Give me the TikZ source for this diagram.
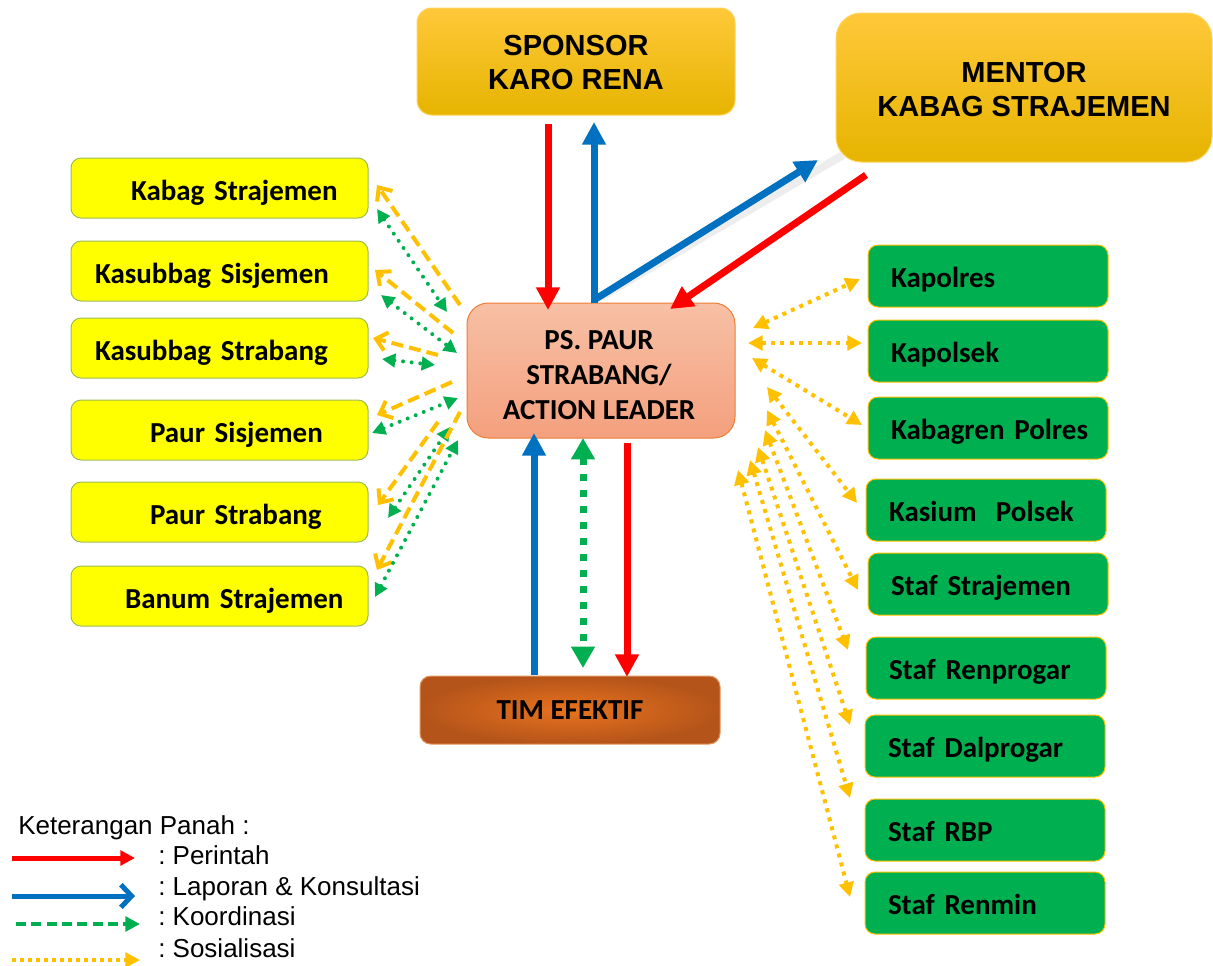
\documentclass[tikz,border=0pt]{standalone}
\usepackage{fontspec}
\setmainfont{Liberation Sans}
\newfontfamily\calib{Carlito}
\usetikzlibrary{arrows.meta,calc}
\definecolor{cred}{HTML}{FF0000}
\definecolor{cblue}{HTML}{0070C0}
\definecolor{cgreen}{HTML}{00B050}
\definecolor{corange}{HTML}{FFC000}
\definecolor{goldtop}{HTML}{FFC83A}
\definecolor{goldbot}{HTML}{E6B400}
\definecolor{goldedge}{HTML}{FFD45C}
\definecolor{salmtop}{HTML}{F7C0A5}
\definecolor{salmbot}{HTML}{F4A07E}
\definecolor{salmedge}{HTML}{ED7D31}
\definecolor{timin}{HTML}{E8731E}
\definecolor{timout}{HTML}{B5541A}
\definecolor{timedge}{HTML}{E2955A}
\definecolor{ybox}{HTML}{FFFF00}
\definecolor{yedge}{HTML}{9BBB59}
\definecolor{shadowgray}{HTML}{EDEDED}
\begin{document}
\begin{tikzpicture}[x=0.75pt,y=-0.75pt,
  goldbox/.style={draw=goldedge, line width=0.75pt, top color=goldtop, bottom color=goldbot,
    inner sep=0pt, outer sep=0pt},
  goldtext/.style={align=center, inner sep=0pt,
    font=\fontsize{21.75pt}{25.5pt}\selectfont\bfseries},
  centerbox/.style={draw=salmedge, line width=0.75pt, top color=salmtop, bottom color=salmbot,
    inner sep=0pt, outer sep=0pt, rounded corners=16pt,
    minimum width=201pt, minimum height=101.25pt},
  centertext/.style={align=center, inner sep=0pt,
    font=\calib\fontsize{21.75pt}{26.25pt}\selectfont\bfseries},
  timbox/.style={draw=timedge, line width=0.75pt, inner color=timin, outer color=timout,
    align=center, inner sep=0pt, outer sep=0pt, rounded corners=8pt,
    minimum width=225pt, minimum height=51pt,
    font=\calib\fontsize{21.75pt}{26pt}\selectfont\bfseries},
  leftbox/.style={draw=yedge, line width=0.75pt, fill=ybox, rounded corners=7.5pt,
    align=left, text width=207.75pt, inner xsep=7.5pt, inner ysep=0pt, outer sep=0pt,
    text height=19.5pt, text depth=1.5pt,
    minimum height=45pt, font=\calib\fontsize{21.75pt}{26pt}\selectfont\bfseries},
  rightbox/.style={draw=corange, line width=0.75pt, fill=cgreen, rounded corners=7.5pt,
    align=left, text width=160pt, inner xsep=10pt, inner ysep=0pt, outer sep=0pt,
    text height=19pt, text depth=2pt,
    minimum height=46.5pt, font=\calib\fontsize{21.75pt}{26pt}\selectfont\bfseries,
    execute at begin node={\hspace*{7.25pt}}},
  perintah/.style={draw=cred, line width=5.25pt, -{Triangle[length=17pt,width=17pt]}},
  laporan/.style={draw=cblue, line width=5.25pt, -{Triangle[length=17pt,width=17pt]}},
  koordC/.style={draw=cgreen, line width=5.25pt, dash pattern=on 5pt off 7pt,
    {Triangle[length=16pt,width=17pt]}-{Triangle[length=16pt,width=17pt]}},
  koordL/.style={draw=cgreen, line width=3pt, line cap=round, dash pattern=on 0pt off 6.5pt,
    {Triangle[length=10pt,width=10pt]}-{Triangle[length=10pt,width=10pt]}},
  sosL/.style={draw=corange, line width=3pt, dash pattern=on 9pt off 4.5pt,
    -{Straight Barb[length=8pt,width=14pt]}},
  sosR/.style={draw=corange, line width=3pt, dash pattern=on 3pt off 4pt,
    {Triangle[length=11pt,width=11pt]}-{Triangle[length=11pt,width=11pt]}},
  legtext/.style={anchor=base west, inner sep=0pt, font=\fontsize{19.5pt}{23pt}\selectfont\frenchspacing},
]
\useasboundingbox (0,0) rectangle (1213,965);

% ---------- main nodes ----------
\node[goldbox, rounded corners=11pt, minimum width=238.5pt, minimum height=80.25pt]
  (sponsor) at (576,61.5) {};
\node[goldtext] (sptext) at (576,62.5) {SPONSOR\\KARO RENA};
\node[goldbox, rounded corners=19pt, minimum width=282pt, minimum height=111.75pt]
  (mentor) at (1024,87.5) {};
\node[goldtext] (mntext) at (1024,90) {MENTOR\\KABAG STRAJEMEN};
\node[centerbox] (center) at (601,370.5) {};
\node[centertext] (ctext) at (599,375.5) {PS. PAUR\\STRABANG/\\ACTION LEADER};
\node[timbox] (tim) at (570,710) {TIM EFEKTIF};

% ---------- left boxes ----------
\node[leftbox] (kabag) at (219.5,188) {\hspace*{37.5pt}Kabag Strajemen};
\node[leftbox] (ksis)  at (219.5,271) {\hspace*{10.5pt}Kasubbag Sisjemen};
\node[leftbox] (kstr)  at (219.5,348) {\hspace*{10.5pt}Kasubbag Strabang};
\node[leftbox] (psis)  at (219.5,430) {\hspace*{51.75pt}Paur Sisjemen};
\node[leftbox] (pstr)  at (219.5,512) {\hspace*{51.75pt}Paur Strabang};
\node[leftbox] (banum) at (219.5,596) {\hspace*{33pt}Banum Strajemen};

% ---------- right boxes ----------
\node[rightbox] (kapolres) at (988,276) {Kapolres};
\node[rightbox] (kapolsek) at (988,351) {Kapolsek};
\node[rightbox] (kabagren) at (988,428) {Kabagren Polres};
\node[rightbox] (kasium)   at (986,510) {Kasium~~Polsek};
\node[rightbox] (sstraj)   at (988,584) {Staf Strajemen};
\node[rightbox] (srenp)    at (986,668) {Staf Renprogar};
\node[rightbox] (sdalp)    at (985,746) {Staf Dalprogar};
\node[rightbox] (srbp)     at (985,830) {Staf RBP};
\node[rightbox] (srenmin)  at (985,903) {Staf Renmin};

% ---------- top connectors ----------
\draw[perintah] ($(sponsor.south)+(-28,9)$) -- ($(center.north)+(-53,7)$);
\draw[laporan] ($(center.north)+(-7,0)$) -- ($(sponsor.south)+(18,7)$);
\draw[draw=shadowgray, line width=6pt] ($(center.north)+(0,-6)$) -- ($(mentor.south west)+(7,-7)$);
\draw[laporan] ($(center.north)+(-7,-3)$) -- ($(mentor.south west)+(-18,-2)$);
\draw[perintah] ($(mentor.south west)+(30,13)$) -- ($(center.north east)+(-65,6)$);

% ---------- bottom connectors ----------
\draw[laporan] ($(tim.north)+(-36,-1)$) -- ($(center.south)+(-67,-5)$);
\draw[koordC] ($(center.south)+(-18,0)$) -- ($(tim.north)+(13,-8)$);
\draw[perintah] ($(center.south)+(26,5)$) -- ($(tim.north)+(57,1)$);

% ---------- left connectors ----------
\draw[sosL] ($(center.west)+(-7,-65.5)$) -- ($(kabag.east)+(9,-3)$);
\draw[koordL] ($(kabag.east)+(9,21)$) -- ($(center.west)+(-20,-58.5)$);
\draw[sosL] ($(center.west)+(-14,-37.5)$) -- ($(ksis.east)+(7,-1)$);
\draw[koordL] ($(ksis.east)+(13,24)$) -- ($(center.west)+(-10,-17.5)$);
\draw[sosL] ($(center.west)+(-29,-15.5)$) -- ($(kstr.east)+(5,-10)$);
\draw[koordL] ($(kstr.east)+(14,11)$) -- ($(center.west)+(-32,-5.5)$);
\draw[sosL] ($(center.west)+(-15,11.5)$) -- ($(psis.east)+(9,-15)$);
\draw[koordL] ($(psis.east)+(4,3)$) -- ($(center.west)+(-9,27.5)$);
\draw[sosL] ($(center.west)+(-29,51.5)$) -- ($(pstr.east)+(10,-7)$);
\draw[koordL] ($(pstr.east)+(20,6)$) -- ($(center.west)+(-17,56.5)$);
\draw[sosL] ($(center.west)+(-7,41.5)$) -- ($(banum.east)+(9,-26)$);
\draw[koordL] ($(banum.east)+(7,1)$) -- ($(center.west)+(-9,69.5)$);

% ---------- right connectors ----------
\draw[sosR] ($(center.east)+(18,-42.5)$) -- ($(kapolres.west)+(-8,3)$);
\draw[sosR] ($(center.east)+(13,-27.5)$) -- ($(kapolsek.west)+(-6,-8)$);
\draw[sosR] ($(center.east)+(17,-12.5)$) -- ($(kabagren.west)+(-6,-3)$);
\draw[sosR] ($(center.east)+(32,16.5)$) -- ($(kasium.west)+(-9,-7)$);
\draw[sosR] ($(center.east)+(32,39.5)$) -- ($(sstraj.west)+(-10,6)$);
\draw[sosR] ($(center.east)+(30,59.5)$) -- ($(srenp.west)+(-18,-18)$);
\draw[sosR] ($(center.east)+(23,76.5)$) -- ($(sdalp.west)+(-15,-21)$);
\draw[sosR] ($(center.east)+(15,89.5)$) -- ($(srbp.west)+(-15,-32)$);
\draw[sosR] ($(center.east)+(3,99.5)$) -- ($(srenmin.west)+(-15,-6)$);

% ---------- legend ----------
\node[legtext] (ket) at (18,834) {Keterangan Panah :};
\node[legtext] (lper) at (158,864) {: Perintah};
\node[legtext] (llap) at (158,895) {: Laporan \& Konsultasi};
\node[legtext] (lkoo) at (158,925) {: Koordinasi};
\node[legtext] (lsos) at (158,957) {: Sosialisasi};
\coordinate (r1) at (12,858);  \coordinate (r2) at (135,858);
\coordinate (b1) at (12,896);  \coordinate (b2) at (135,896);
\coordinate (g1) at (16,924);  \coordinate (g2) at (140,924);
\coordinate (o1) at (12,960);  \coordinate (o2) at (140,960);
\draw[draw=cred, line width=3.75pt, -{Triangle[length=11pt,width=11pt]}] (r1) -- (r2);
\draw[draw=cblue, line width=3.75pt, -{Straight Barb[length=8pt,width=17pt]}] (b1) -- (b2);
\draw[draw=cgreen, line width=3pt, dash pattern=on 7.5pt off 4pt, -{Triangle[length=11pt,width=11pt]}] (g1) -- (g2);
\draw[draw=corange, line width=3pt, dash pattern=on 3pt off 3pt, -{Triangle[length=11pt,width=11pt]}] (o1) -- (o2);
\end{tikzpicture}
\end{document}
